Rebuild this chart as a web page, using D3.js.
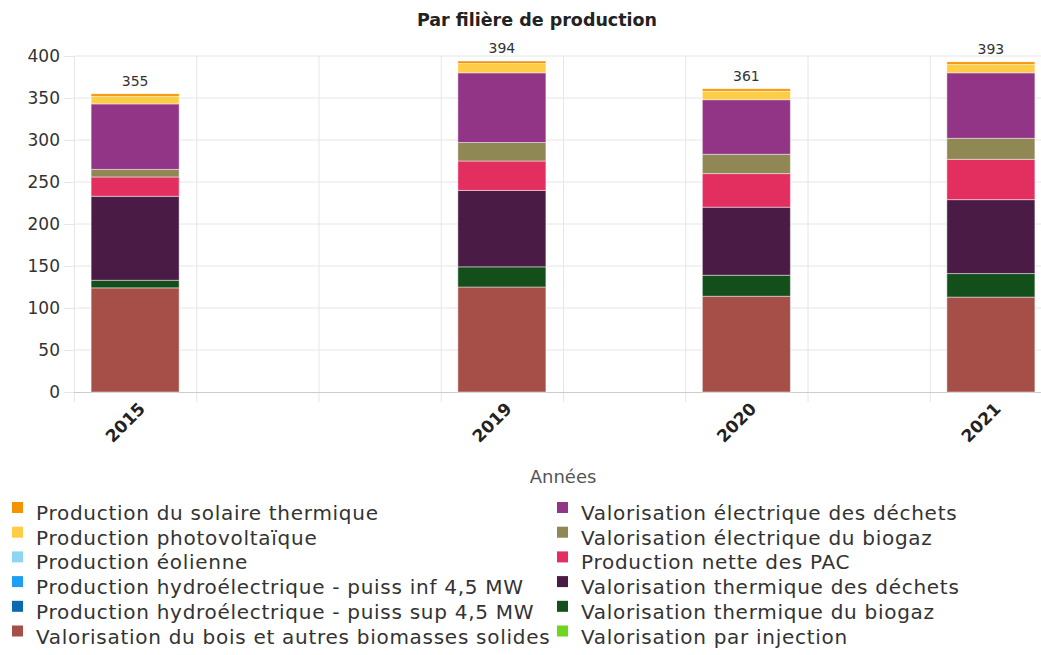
<!DOCTYPE html>
<html>
<head>
<meta charset="utf-8">
<script src="https://cdn.jsdelivr.net/npm/d3@7"></script>
<style>
  body { margin: 0; background: #fff; }
  svg { display: block; font-family: "DejaVu Sans", sans-serif; overflow: hidden; }
</style>
</head>
<body>
<div id="chart"></div>
<script>
// years and the grid slot each one sits in on the x axis
const years = ["2015", "2019", "2020", "2021"];
const yearSlots = [0, 3, 5, 7];
const slotCount = 8;

// series in stacking order (bottom to top)
const series = [
  "Valorisation du bois et autres biomasses solides",
  "Valorisation thermique du biogaz",
  "Valorisation thermique des déchets",
  "Production nette des PAC",
  "Valorisation électrique du biogaz",
  "Valorisation électrique des déchets",
  "Valorisation par injection",
  "Production hydroélectrique - puiss sup 4,5 MW",
  "Production hydroélectrique - puiss inf 4,5 MW",
  "Production éolienne",
  "Production photovoltaïque",
  "Production du solaire thermique"
];
const colors = [
  "#a54f48", "#124f1a", "#4a1b44", "#e32e60", "#8f8855", "#923587",
  "#6fd620", "#0b69b0", "#1f9ff3", "#8fd4f1", "#fecd45", "#f39300"
];

// values per series, one per year (2015, 2019, 2020, 2021)
const bois = [124, 125, 114, 113];
const biogazTherm = [9, 24, 25, 28];
const dechetsTherm = [100, 91, 81, 88];
const pac = [23, 35, 40, 48];
const biogazElec = [9, 22, 23, 25];
const dechetsElec = [78, 83, 65, 78];
const injection = [0, 0, 0, 0];
const hydroSup = [0, 0, 0, 0];
const hydroInf = [0, 0, 0, 0];
const eolien = [0, 0, 0, 0];
const photovoltaique = [9, 11, 10, 10];
const solaireTherm = [3, 3, 3, 3];

const values = [bois, biogazTherm, dechetsTherm, pac, biogazElec, dechetsElec,
  injection, hydroSup, hydroInf, eolien, photovoltaique, solaireTherm];

// legend order (two columns)
const legendOrder = [
  "Production du solaire thermique",
  "Production photovoltaïque",
  "Production éolienne",
  "Production hydroélectrique - puiss inf 4,5 MW",
  "Production hydroélectrique - puiss sup 4,5 MW",
  "Valorisation du bois et autres biomasses solides",
  "Valorisation électrique des déchets",
  "Valorisation électrique du biogaz",
  "Production nette des PAC",
  "Valorisation thermique des déchets",
  "Valorisation thermique du biogaz",
  "Valorisation par injection"
];

const yTicks = [0, 50, 100, 150, 200, 250, 300, 350, 400];

const width = 1041, height = 655;
const plotLeft = 74, plotRight = 1052, plotTop = 56, plotBottom = 392;

const svg = d3.select("#chart").append("svg")
  .attr("width", width)
  .attr("height", height);

// build table rows for the stack
const rows = years.map((yr, i) => {
  const r = { year: yr, slot: yearSlots[i] };
  series.forEach((s, k) => { r[s] = values[k][i]; });
  return r;
});
const stacked = d3.stack().keys(series)(rows);
const color = d3.scaleOrdinal().domain(series).range(colors);

const x = d3.scaleBand()
  .domain(d3.range(slotCount))
  .range([plotLeft, plotRight])
  .paddingInner(0).paddingOuter(0);

const y = d3.scaleLinear()
  .domain([0, 400])
  .range([plotBottom, plotTop]);

// title
svg.append("text")
  .attr("x", 537).attr("y", 26)
  .attr("text-anchor", "middle")
  .attr("font-size", 17.5).attr("font-weight", 700)
  .attr("fill", "#222")
  .text("Par filière de production");

// horizontal grid + y labels
const yAxis = svg.append("g")
  .attr("transform", `translate(${plotLeft},0)`)
  .call(d3.axisLeft(y).tickValues(yTicks).tickSize(10).tickPadding(4))
  .call(g => g.select(".domain").remove());
yAxis.selectAll(".tick line").attr("stroke", "#e6e6e6");
yAxis.selectAll(".tick text")
  .attr("font-size", 17).attr("fill", "#333")
  .attr("font-family", "DejaVu Sans, sans-serif");
svg.append("g").selectAll("line")
  .data(yTicks.filter(d => d > 0))
  .join("line")
  .attr("x1", plotLeft).attr("x2", width)
  .attr("y1", d => y(d)).attr("y2", d => y(d))
  .attr("stroke", "#e6e6e6");

// vertical grid lines at slot boundaries
svg.append("g").selectAll("line")
  .data(d3.range(slotCount))
  .join("line")
  .attr("x1", d => x(d) + 0.5).attr("x2", d => x(d) + 0.5)
  .attr("y1", plotTop).attr("y2", plotBottom + 10)
  .attr("stroke", "#e6e6e6");

// x axis line
svg.append("line")
  .attr("x1", plotLeft).attr("x2", width)
  .attr("y1", plotBottom + 0.5).attr("y2", plotBottom + 0.5)
  .attr("stroke", "#ccc");

// bars
const barW = x.bandwidth() * 0.72;
const barOff = (x.bandwidth() - barW) / 2;
svg.append("g").selectAll("g")
  .data(stacked)
  .join("g")
  .attr("fill", d => color(d.key))
  .selectAll("rect")
  .data(d => d)
  .join("rect")
  .attr("x", d => x(d.data.slot) + barOff)
  .attr("width", barW)
  .attr("y", d => y(d[1]))
  .attr("height", d => y(d[0]) - y(d[1]))
  .attr("stroke", "rgba(255,255,255,0.45)")
  .attr("stroke-width", 1);

// totals above bars
svg.append("g").selectAll("text")
  .data(rows)
  .join("text")
  .attr("x", d => x(d.slot) + x.bandwidth() / 2)
  .attr("y", d => y(d3.sum(series, s => d[s])) - 8)
  .attr("text-anchor", "middle")
  .attr("font-size", 14).attr("fill", "#333")
  .text(d => Math.round(d3.sum(series, s => d[s])));

// x tick labels (rotated)
svg.append("g").selectAll("text")
  .data(rows)
  .join("text")
  .attr("transform", d => `translate(${x(d.slot) + x.bandwidth() / 2 + 11},${plotBottom + 18}) rotate(-45)`)
  .attr("text-anchor", "end")
  .attr("font-size", 17).attr("font-weight", 700)
  .attr("fill", "#222")
  .text(d => d.year);

// x axis title
svg.append("text")
  .attr("x", (plotLeft + plotRight) / 2).attr("y", 483)
  .attr("text-anchor", "middle")
  .attr("font-size", 18).attr("fill", "#555")
  .text("Années");

// legend
const legend = svg.append("g").selectAll("g")
  .data(legendOrder)
  .join("g")
  .attr("transform", (d, i) => `translate(${i < 6 ? 12 : 557},${520 + (i % 6) * 24.7})`);
legend.append("rect")
  .attr("x", 0).attr("y", -18)
  .attr("width", 11).attr("height", 11)
  .attr("fill", d => color(d));
legend.append("text")
  .attr("x", 24).attr("y", 0)
  .attr("font-size", 20).attr("letter-spacing", 0.72)
  .attr("fill", "#333")
  .text(d => d);
</script>
</body>
</html>
